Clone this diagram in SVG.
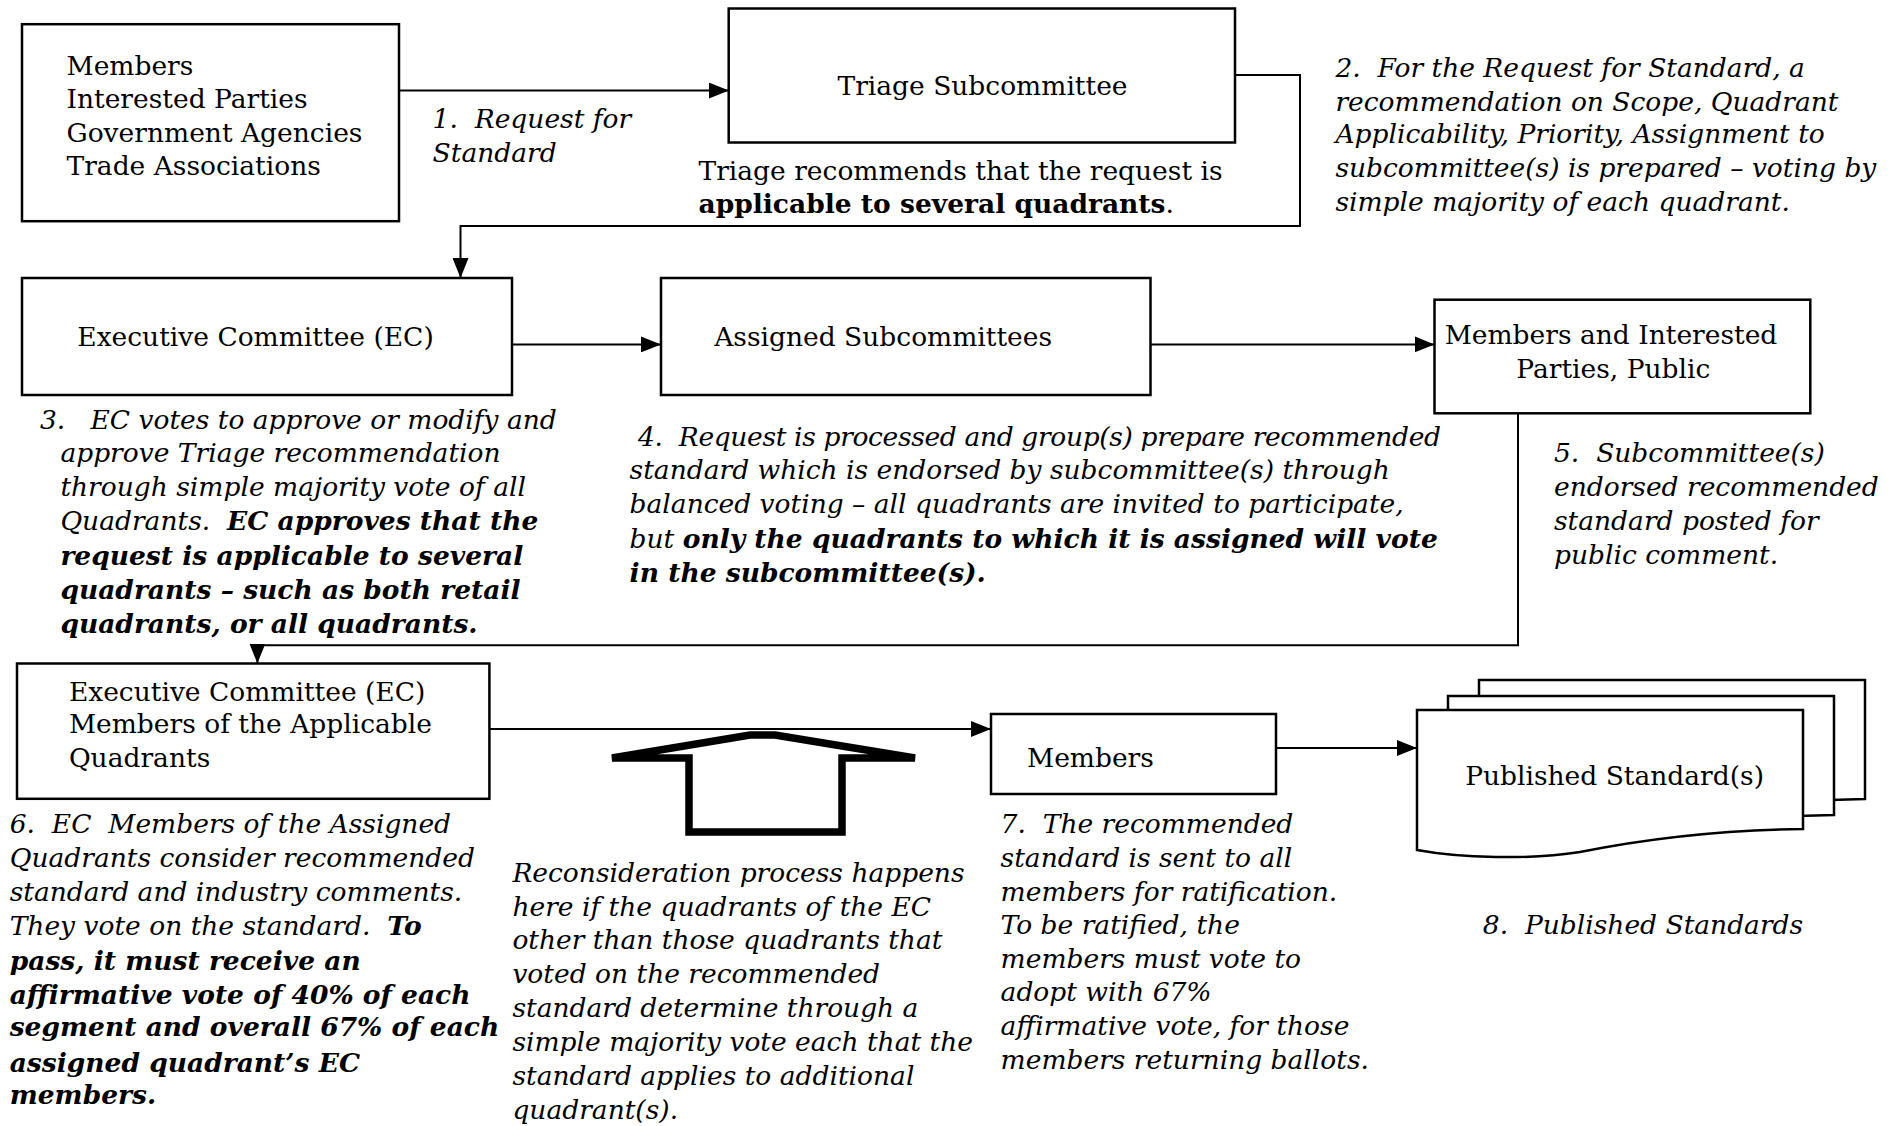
<svg xmlns="http://www.w3.org/2000/svg" width="1895" height="1126" viewBox="0 0 1895 1126">
<defs>
<marker id="ah" markerUnits="userSpaceOnUse" markerWidth="20" markerHeight="16" refX="20" refY="8" orient="auto">
<path d="M0,0 L20,8 L0,16 z" fill="#000"/>
</marker>
<path id="doc" d="M1417,710 H1803 V829 C1720,830 1640,840 1580,852 C1530,860 1460,858 1417,850 Z"/>
</defs>
<style>
text{font-family:"DejaVu Serif","Liberation Serif",serif;font-size:26.5px;fill:#000;white-space:pre}
.i{font-style:italic}
.b{font-weight:bold}
.bi{font-style:italic;font-weight:bold}
.box{fill:#fff;stroke:#000;stroke-width:2.5}
.con{fill:none;stroke:#000;stroke-width:2}
.arr{marker-end:url(#ah)}
</style>
<rect width="1895" height="1126" fill="#fff"/>

<g id="connectors">
<path class="con arr" d="M393,90.6 H729"/>
<path class="con arr" d="M1235,75 H1300 V226 H460.5 V278"/>
<path class="con arr" d="M512,344.4 H661"/>
<path class="con arr" d="M1150.5,344.4 H1434.5"/>
<path class="con arr" d="M1518,413.3 V645.3 H257.4 V663.5"/>
<path class="con arr" d="M489.4,729 H991"/>
<path class="con arr" d="M1276,748 H1417"/>
</g>

<g id="n-members">
<rect class="box" x="22" y="24.2" width="377" height="197"/>
<text x="66.5" y="74.5">Members</text>
<text x="66.5" y="108.3">Interested Parties</text>
<text x="66.5" y="142.1">Government Agencies</text>
<text x="66.5" y="174.8">Trade Associations</text>
</g>

<g id="l-step1">
<text class="i" x="432.6" y="127.6">1.  Request for</text>
<text class="i" x="432.6" y="161.5">Standard</text>
</g>

<g id="n-triage">
<rect class="box" x="728.7" y="8.5" width="506.3" height="134"/>
<text x="982.5" y="95" text-anchor="middle">Triage Subcommittee</text>
</g>

<g id="l-triage">
<text x="698.5" y="179.6">Triage recommends that the request is</text>
<text x="698.5" y="213.4"><tspan class="b">applicable to several quadrants</tspan>.</text>
</g>

<g id="l-step2">
<text class="i" x="1335.4" y="76.9">2.  For the Request for Standard, a</text>
<text class="i" x="1335.4" y="110.7">recommendation on Scope, Quadrant</text>
<text class="i" x="1335.4" y="143.4">Applicability, Priority, Assignment to</text>
<text class="i" x="1335.4" y="177.2">subcommittee(s) is prepared – voting by</text>
<text class="i" x="1335.4" y="211">simple majority of each quadrant.</text>
</g>

<g id="n-ec">
<rect class="box" x="22" y="278" width="490" height="117"/>
<text x="77.3" y="346.4">Executive Committee (EC)</text>
</g>

<g id="n-assigned">
<rect class="box" x="661" y="278" width="489.5" height="117"/>
<text x="714.2" y="346.4">Assigned Subcommittees</text>
</g>

<g id="n-public">
<rect class="box" x="1434.5" y="299.7" width="375.8" height="113.6"/>
<text x="1611" y="344" text-anchor="middle">Members and Interested</text>
<text x="1613.3" y="377.8" text-anchor="middle">Parties, Public</text>
</g>

<g id="l-step3">
<text class="i" x="39.9" y="428.6">3.   EC votes to approve or modify and</text>
<text class="i" x="60.4" y="462.4">approve Triage recommendation</text>
<text class="i" x="60.4" y="496.2">through simple majority vote of all</text>
<text class="i" x="60.4" y="530">Quadrants.  <tspan class="bi">EC approves that the</tspan></text>
<text class="bi" x="60.4" y="565">request is applicable to several</text>
<text class="bi" x="60.4" y="599">quadrants – such as both retail</text>
<text class="bi" x="60.4" y="632.8">quadrants, or all quadrants.</text>
</g>

<g id="l-step4">
<text class="i" x="638" y="445.5" textLength="803" lengthAdjust="spacing">4.  Request is processed and group(s) prepare recommended</text>
<text class="i" x="629.6" y="479.3">standard which is endorsed by subcommittee(s) through</text>
<text class="i" x="629.6" y="513.2">balanced voting – all quadrants are invited to participate,</text>
<text class="i" x="629.6" y="548.2">but <tspan class="bi">only the quadrants to which it is assigned will vote</tspan></text>
<text class="bi" x="629.6" y="582">in the subcommittee(s).</text>
</g>

<g id="l-step5">
<text class="i" x="1554" y="462.4">5.  Subcommittee(s)</text>
<text class="i" x="1554" y="496.2">endorsed recommended</text>
<text class="i" x="1554" y="530">standard posted for</text>
<text class="i" x="1554" y="563.9">public comment.</text>
</g>

<g id="n-ec-quadrants">
<rect class="box" x="17" y="663.5" width="472.4" height="135.3"/>
<text x="68.9" y="700.5">Executive Committee (EC)</text>
<text x="68.9" y="733">Members of the Applicable</text>
<text x="68.9" y="767">Quadrants</text>
</g>

<g id="n-members-ratify">
<rect class="box" x="991" y="714" width="285" height="80"/>
<text x="1027" y="767">Members</text>
</g>

<g id="n-published">
<use href="#doc" transform="translate(62,-30)" class="box"/>
<use href="#doc" transform="translate(31,-14)" class="box"/>
<use href="#doc" class="box"/>
<text x="1614.6" y="785" text-anchor="middle">Published Standard(s)</text>
</g>

<g id="reconsideration-arrow">
<polygon points="612,758 750,735 775,735 915,758 842,758 842,832 689,832 689,758" fill="none" stroke="#000" stroke-width="7.5"/>
</g>

<g id="l-step6">
<text class="i" x="9.7" y="833.4">6.  EC  Members of the Assigned</text>
<text class="i" x="9.7" y="867.2">Quadrants consider recommended</text>
<text class="i" x="9.7" y="901.1">standard and industry comments.</text>
<text class="i" x="9.7" y="934.9">They vote on the standard.  <tspan class="bi">To</tspan></text>
<text class="bi" x="9.7" y="970">pass, it must receive an</text>
<text class="bi" x="9.7" y="1003.8">affirmative vote of 40% of each</text>
<text class="bi" x="9.7" y="1036.4">segment and overall 67% of each</text>
<text class="bi" x="9.7" y="1071.5">assigned quadrant’s EC</text>
<text class="bi" x="9.7" y="1104.1">members.</text>
</g>

<g id="l-reconsideration">
<text class="i" x="512.4" y="881.7">Reconsideration process happens</text>
<text class="i" x="512.4" y="915.6">here if the quadrants of the EC</text>
<text class="i" x="512.4" y="949.4">other than those quadrants that</text>
<text class="i" x="512.4" y="983.3">voted on the recommended</text>
<text class="i" x="512.4" y="1017.1">standard determine through a</text>
<text class="i" x="512.4" y="1050.9">simple majority vote each that the</text>
<text class="i" x="512.4" y="1084.8">standard applies to additional</text>
<text class="i" x="512.4" y="1118.6">quadrant(s).</text>
</g>

<g id="l-step7">
<text class="i" x="1000.6" y="833.4">7.  The recommended</text>
<text class="i" x="1000.6" y="867.2">standard is sent to all</text>
<text class="i" x="1000.6" y="901.1">members for ratification.</text>
<text class="i" x="1000.6" y="933.7">To be ratified, the</text>
<text class="i" x="1000.6" y="967.5">members must vote to</text>
<text class="i" x="1000.6" y="1001.4">adopt with 67%</text>
<text class="i" x="1000.6" y="1035.2">affirmative vote, for those</text>
<text class="i" x="1000.6" y="1069.1">members returning ballots.</text>
</g>

<g id="l-step8">
<text class="i" x="1482.8" y="933.7">8.  Published Standards</text>
</g>
</svg>
